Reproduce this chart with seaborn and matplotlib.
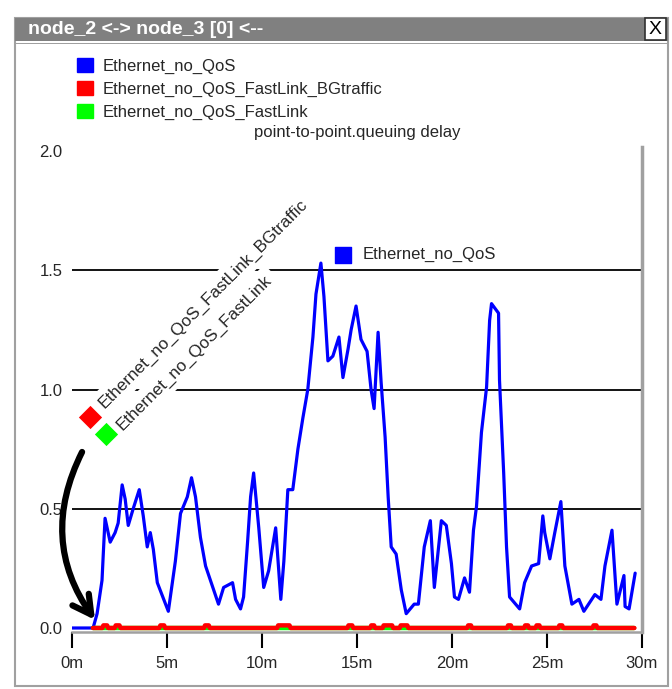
import matplotlib
matplotlib.use("Agg")
import matplotlib.pyplot as plt
from matplotlib.patches import Rectangle, Patch
import seaborn as sns

# Series (time in minutes, queuing delay in seconds)
blue_t = [0.00, 1.11, 1.32, 1.58, 1.64, 1.74, 2.01, 2.27, 2.43, 2.64, 2.80, 2.96, 3.22, 3.54,
          3.75, 3.96, 4.12, 4.28, 4.49, 5.07, 5.44, 5.71, 6.07, 6.29, 6.50, 6.76, 7.03, 7.71,
          7.98, 8.45, 8.61, 8.87, 9.03, 9.24, 9.40, 9.56, 9.83, 10.09, 10.35, 10.72, 10.99,
          11.15, 11.36, 11.62, 11.89, 12.15, 12.41, 12.68, 12.84, 13.10, 13.26, 13.47, 13.73,
          14.05, 14.26, 14.53, 14.69, 14.95, 15.21, 15.53, 15.74, 15.90, 16.11, 16.27, 16.48,
          16.64, 16.80, 17.06, 17.33, 17.59, 18.01, 18.23, 18.54, 18.86, 19.07, 19.44, 19.70,
          19.97, 20.13, 20.34, 20.66, 20.92, 21.13, 21.29, 21.55, 21.82, 21.98, 22.08, 22.45,
          22.50, 22.72, 22.87, 23.03, 23.56, 23.82, 24.19, 24.56, 24.78, 24.88, 25.15, 25.41,
          25.73, 25.94, 26.31, 26.68, 26.94, 27.52, 27.84, 28.05, 28.42, 28.68, 29.05, 29.11,
          29.32, 29.64]
blue_v = [0.00, 0.00, 0.06, 0.20, 0.30, 0.46, 0.36, 0.40, 0.44, 0.60, 0.54, 0.43, 0.50, 0.58,
          0.47, 0.34, 0.40, 0.33, 0.19, 0.07, 0.28, 0.48, 0.55, 0.63, 0.55, 0.38, 0.26, 0.10,
          0.17, 0.19, 0.12, 0.08, 0.13, 0.36, 0.55, 0.65, 0.42, 0.17, 0.24, 0.42, 0.12,
          0.28, 0.58, 0.58, 0.75, 0.88, 1.00, 1.22, 1.40, 1.53, 1.39, 1.12, 1.14,
          1.22, 1.05, 1.17, 1.25, 1.35, 1.21, 1.16, 1.00, 0.92, 1.24, 1.03, 0.80,
          0.55, 0.34, 0.31, 0.16, 0.06, 0.10, 0.10, 0.34, 0.45, 0.17, 0.45, 0.43,
          0.27, 0.13, 0.12, 0.21, 0.15, 0.41, 0.51, 0.82, 1.01, 1.29, 1.36, 1.32,
          1.04, 0.65, 0.34, 0.13, 0.08, 0.19, 0.26, 0.27, 0.47, 0.40, 0.29, 0.40,
          0.53, 0.26, 0.10, 0.12, 0.07, 0.14, 0.12, 0.26, 0.41, 0.10, 0.22, 0.09,
          0.08, 0.23]

red_t = [1.10, 1.60, 1.65, 1.85, 1.90, 2.25, 2.30, 2.50, 2.55, 4.60, 4.65, 4.85, 4.90,
         6.95, 7.00, 7.20, 7.25, 10.80, 10.85, 11.45, 11.50, 14.50, 14.55, 14.75, 14.80,
         15.70, 15.75, 15.90, 15.95, 16.35, 16.40, 16.85, 16.90, 17.25, 17.30, 17.65, 17.70,
         20.80, 20.85, 21.00, 21.05, 22.90, 22.95, 23.10, 23.15, 23.80, 23.85, 24.00, 24.05,
         24.40, 24.45, 24.60, 24.65, 25.60, 25.65, 25.80, 25.85, 27.40, 27.45, 27.60, 27.65,
         29.60]
red_v = [0, 0, 0.011, 0.011, 0, 0, 0.011, 0.011, 0, 0, 0.011, 0.011, 0,
         0, 0.011, 0.011, 0, 0, 0.011, 0.011, 0, 0, 0.011, 0.011, 0,
         0, 0.011, 0.011, 0, 0, 0.011, 0.011, 0, 0, 0.011, 0.011, 0,
         0, 0.011, 0.011, 0, 0, 0.011, 0.011, 0, 0, 0.011, 0.011, 0,
         0, 0.011, 0.011, 0, 0, 0.011, 0.011, 0, 0, 0.011, 0.011, 0,
         0]

green_t = [1.10, 29.60]
green_v = [0, 0]

names = ["Ethernet_no_QoS", "Ethernet_no_QoS_FastLink_BGtraffic", "Ethernet_no_QoS_FastLink"]
colors = ["#0000ff", "#ff0000", "#00ff00"]
x_ticks = [0, 5, 10, 15, 20, 25, 30]
x_labels = ["0m", "5m", "10m", "15m", "20m", "25m", "30m"]
y_ticks = [0.0, 0.5, 1.0, 1.5, 2.0]
y_labels = ["0.0", "0.5", "1.0", "1.5", "2.0"]

sns.set_theme(style="white")
plt.rcParams["font.family"] = ["Liberation Sans", "DejaVu Sans"]

fig = plt.figure(figsize=(6.72, 6.89), dpi=100)
fig.patch.set_facecolor("white")

# window frame + title bar
fig.add_artist(Rectangle((15 / 672, 1 - 686 / 689), 653 / 672, 668 / 689, transform=fig.transFigure,
                         facecolor="none", edgecolor="#a0a0a0", lw=1.5))
fig.add_artist(Rectangle((15 / 672, 1 - 41 / 689), 653 / 672, 23 / 689, transform=fig.transFigure,
                         facecolor="#808080", edgecolor="#808080", lw=0))
fig.add_artist(Rectangle((15 / 672, 1 - 44 / 689), 653 / 672, 1 / 689, transform=fig.transFigure,
                         facecolor="#a0a0a0", edgecolor="none", lw=0))
fig.text(28 / 672, 1 - 30 / 689, "node_2 <-> node_3 [0] <--", color="white", fontsize=14,
         fontweight="bold", va="center", ha="left")
fig.add_artist(Rectangle((645 / 672, 1 - 40 / 689), 21 / 672, 22 / 689, transform=fig.transFigure,
                         facecolor="white", edgecolor="#303030", lw=1.2))
fig.text(655.5 / 672, 1 - 29.5 / 689, "X", color="black", fontsize=14, va="center", ha="center")

# top legend
handles = [Patch(facecolor=c, edgecolor=c) for c in colors]
fig.legend(handles, names, loc="upper left", bbox_to_anchor=(77 / 672, 1 - 58 / 689),
           frameon=False, fontsize=12, handlelength=0.95, handleheight=0.95,
           handletextpad=0.6, labelspacing=0.42, borderaxespad=0, borderpad=0)
fig.text(357 / 672, 1 - 133 / 689, "point-to-point.queuing delay", fontsize=12,
         ha="center", va="center")

ax = fig.add_axes([72 / 672, 1 - 632 / 689, 570 / 672, 485 / 689])
ax.set_facecolor("white")

for y in [0.5, 1.0, 1.5]:
    ax.axhline(y, color="black", lw=1.3, zorder=1)

sns.lineplot(x=blue_t, y=blue_v, ax=ax, color=colors[0], lw=2.3, zorder=4)
sns.lineplot(x=green_t, y=green_v, ax=ax, color=colors[2], lw=3.2, zorder=5)
sns.lineplot(x=red_t, y=red_v, ax=ax, color=colors[1], lw=3.2, zorder=6)

ax.set_xlim(0, 30)
ax.set_ylim(-0.0168, 2.0168)
ax.set_xticks(x_ticks)
ax.set_xticklabels(x_labels)
ax.set_yticks(y_ticks)
ax.set_yticklabels(y_labels)
ax.tick_params(axis="x", direction="out", length=11.5, width=1.5, color="black",
               labelsize=12, pad=5.5, bottom=True)
ax.tick_params(axis="y", length=0, labelsize=12, pad=7)
ax.set_xlabel("")
ax.set_ylabel("")
for side in ["left", "top"]:
    ax.spines[side].set_visible(False)
ax.spines["right"].set_color("#a0a0a0")
ax.spines["right"].set_linewidth(2.5)
ax.spines["bottom"].set_color("#a0a0a0")
ax.spines["bottom"].set_linewidth(1.8)

# in-plot labels
ax.scatter([0.476], [0.778], marker="s", s=140, color=colors[0], transform=ax.transAxes,
           zorder=7, clip_on=False)
ax.text(0.509, 0.778, names[0], transform=ax.transAxes, fontsize=12, va="center", ha="left",
        zorder=7)

box = dict(facecolor="white", edgecolor="none", pad=4)
ax.text(0.061, 0.456, names[1], transform=ax.transAxes, fontsize=12.3, rotation=45,
        rotation_mode="anchor", ha="left", va="bottom", bbox=box, zorder=3)
ax.text(0.093, 0.410, names[2], transform=ax.transAxes, fontsize=12.3, rotation=45,
        rotation_mode="anchor", ha="left", va="bottom", bbox=box, zorder=3)
ax.scatter([0.031], [0.443], marker="D", s=140, color=colors[1], transform=ax.transAxes,
           zorder=7, clip_on=False, linewidths=0)
ax.scatter([0.060], [0.408], marker="D", s=140, color=colors[2], transform=ax.transAxes,
           zorder=7, clip_on=False, linewidths=0)

ax.annotate("", xy=(1.21, 0.034), xytext=(0.53, 0.738),
            arrowprops=dict(arrowstyle="->,head_length=1.1,head_width=0.6",
                            connectionstyle="arc3,rad=0.3", lw=4.5, color="black",
                            shrinkA=0, shrinkB=0), zorder=8)

fig.savefig("out.png", dpi=100)
